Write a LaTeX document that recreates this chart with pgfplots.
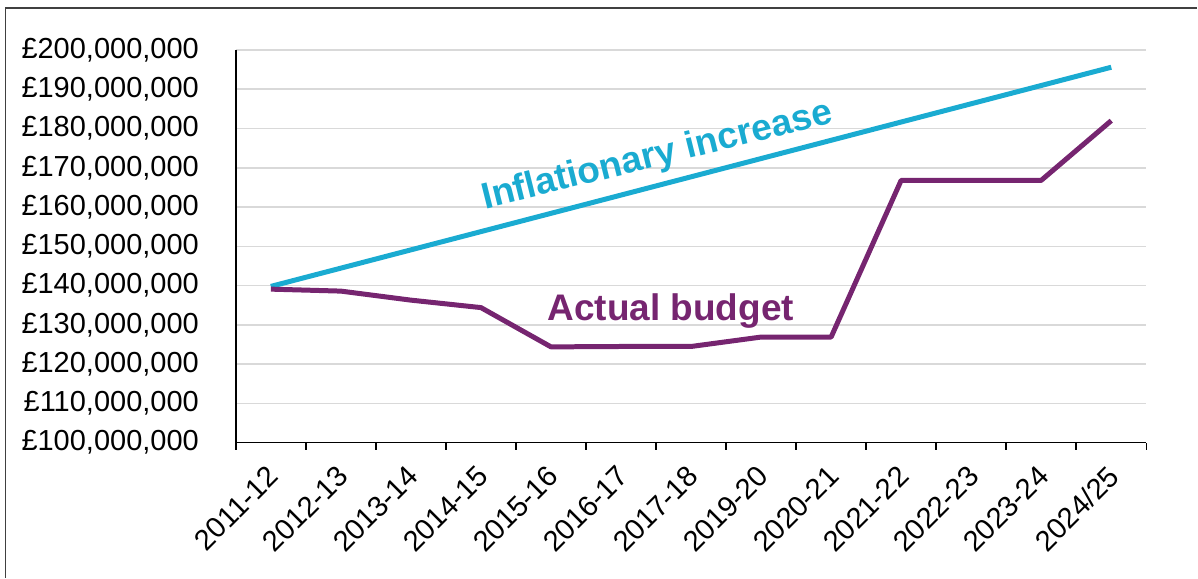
\documentclass[border=0pt]{standalone}
\usepackage{fontspec}
\setmainfont{Liberation Sans}
\usepackage{pgfplots}
\pgfplotsset{compat=1.18}

\definecolor{inflblue}{HTML}{1AABD1}
\definecolor{budgetpurple}{HTML}{762570}
\definecolor{gridgray}{HTML}{D9D9D9}

\begin{document}
\begin{tikzpicture}
\begin{axis}[
    scale only axis,
    width=455.5pt,
    height=196.5pt,
    xmin=-0.5, xmax=12.5,
    ymin=100, ymax=200,
    axis lines=left,
    axis line style={-, black, line width=0.75pt},
    xtick={0,...,12},
    xticklabels={2011-12,2012-13,2013-14,2014-15,2015-16,2016-17,2017-18,2019-20,2020-21,2021-22,2022-23,2023-24,2024/25},
    ytick={100,110,...,200},
    major tick length=0pt,
    tick style={black, line width=0.75pt},
    extra x ticks={-0.5,0.5,...,12.5},
    extra x tick labels={},
    extra x tick style={major tick length=3.5pt, tick align=outside, grid=none},
    ymajorgrids,
    grid style={gridgray, line width=0.75pt},
    yticklabel={£\pgfmathprintnumber{\tick},000,000},
    yticklabel style={font=\fontsize{14.5}{17}\selectfont, xshift=-15pt},
    xticklabel style={font=\fontsize{14.5}{17}\selectfont, yshift=-9pt, xshift=-2.5pt, rotate=45, anchor=north east, inner sep=1pt},
    /pgf/number format/assume math mode=true,
    clip=false,
]
\addplot[inflblue, line width=2.5pt, line join=round] coordinates {
    (0,139.8) (1,144.45) (2,149.1) (3,153.75) (4,158.4) (5,163.05) (6,167.7)
    (7,172.35) (8,177.0) (9,181.65) (10,186.3) (11,190.95) (12,195.6)
};
\addplot[budgetpurple, line width=2.5pt, line join=round] coordinates {
    (0,139.1) (1,138.6) (2,136.3) (3,134.4) (4,124.4) (5,124.5) (6,124.5)
    (7,126.9) (8,126.9) (9,166.8) (10,166.8) (11,166.8) (12,182.0)
};
\node[inflblue, font=\fontsize{18.5}{22}\selectfont\bfseries, rotate=14, anchor=base] at (axis cs:5.55,170.5) {Inflationary increase};
\node[budgetpurple, font=\fontsize{18.5}{22}\selectfont\bfseries, anchor=base] at (axis cs:5.71,131.0) {Actual budget};
\end{axis}
\draw[line width=0.75pt, black!75] ([xshift=-115.25pt,yshift=-67.5pt]current axis.south west) -- ([xshift=-115.25pt,yshift=217.5pt]current axis.south west) -- ([xshift=481pt,yshift=217.5pt]current axis.south west);
\path ([xshift=-118pt,yshift=-67.5pt]current axis.south west) rectangle ([xshift=481pt,yshift=221.5pt]current axis.south west);
\end{tikzpicture}
\end{document}
